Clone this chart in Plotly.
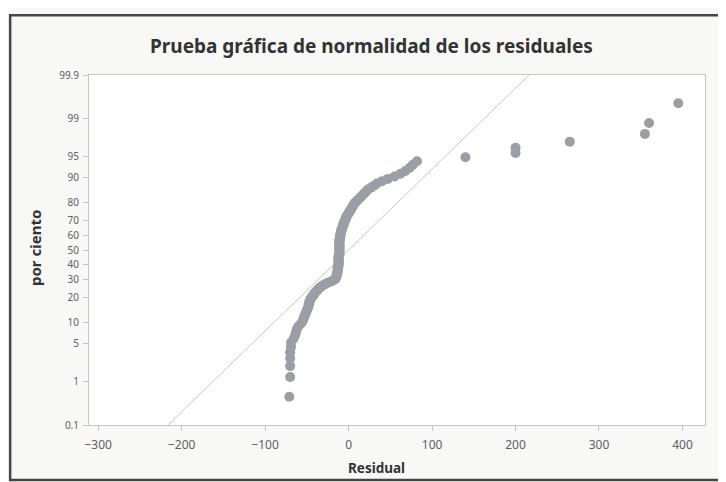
import plotly.graph_objects as go
from statistics import NormalDist

# ---- data ----
residuals = [
    -71, -70, -70, -70, -70, -69, -69, -66, -64, -63,
    -62, -60, -57, -55, -54, -53, -52, -51, -50, -49,
    -48, -48, -47, -47, -46, -45, -44, -42, -41, -40,
    -38, -37, -35, -33, -31, -28, -25, -21, -18, -16,
    -15, -15, -14, -14, -14, -13, -13, -13, -13, -13,
    -12, -12, -12, -12, -12, -12, -12, -12, -12, -12,
    -11, -11, -11, -11, -11, -11, -11, -11, -11, -11,
    -11, -11, -11, -11, -11, -10, -10, -10, -10, -10,
    -9, -9, -9, -8, -8, -7, -7, -6, -6, -5,
    -5, -4, -3, -3, -2, -1, 0, 1, 2, 3,
    4, 5, 6, 7, 9, 11, 13, 15, 17, 19,
    21, 23, 27, 31, 34, 40, 47, 55, 62, 68,
    73, 77, 82, 140, 200, 200, 265, 355, 360, 395,
]
fit_mean = 0.0
fit_sd = 70.0
pct_ticks = [0.1, 1, 5, 10, 20, 30, 40, 50, 60, 70, 80, 90, 95, 99, 99.9]
pct_labels = ["0.1", "1", "5", "10", "20", "30", "40", "50", "60", "70", "80", "90", "95", "99", "99.9"]
x_ticks = [-300, -200, -100, 0, 100, 200, 300, 400]
title_text = "Prueba gráfica de normalidad de los residuales"
x_title = "Residual"
y_title = "por ciento"

nd = NormalDist()
n = len(residuals)
xs = sorted(residuals)
# plotting positions (normal scores) for the probability axis
zs = [nd.inv_cdf((i + 1 - 0.375) / (n + 0.25)) for i in range(n)]
pct_vals = [100 * (i + 1 - 0.375) / (n + 0.25) for i in range(n)]

z_lo = nd.inv_cdf(0.001)
z_hi = nd.inv_cdf(0.999)

fig = go.Figure()
fig.add_trace(go.Scatter(
    x=[fit_mean + fit_sd * z_lo, fit_mean + fit_sd * z_hi],
    y=[z_lo, z_hi], mode="lines",
    line=dict(color="rgb(198,198,212)", width=1),
    hoverinfo="skip", showlegend=False))
fig.add_trace(go.Scatter(
    x=xs, y=zs, mode="markers", customdata=pct_vals,
    marker=dict(size=10, color="rgb(156,158,166)", line=dict(width=0)),
    hovertemplate="%{x}, %{customdata:.1f}%<extra></extra>",
    showlegend=False))

axis_col = "#c4c4c4"
fig.update_layout(
    width=726, height=482,
    margin=dict(l=81, r=29, t=67, b=65),
    paper_bgcolor="#f8f8f7", plot_bgcolor="white",
    xaxis=dict(range=[-311, 427], tickvals=x_ticks, showgrid=False, zeroline=False,
               showline=True, linecolor=axis_col, mirror=True,
               ticks="outside", ticklen=5, tickcolor=axis_col, ticklabelstandoff=4,
               tickfont=dict(family="Noto Sans", size=12, color="#606060")),
    yaxis=dict(range=[z_lo, z_hi], tickvals=[nd.inv_cdf(p / 100) for p in pct_ticks],
               ticktext=pct_labels, showgrid=False, zeroline=False,
               showline=True, linecolor=axis_col, mirror=True,
               ticks="outside", ticklen=5, tickcolor=axis_col, ticklabelstandoff=2,
               tickfont=dict(family="Noto Sans", size=10, color="#606060")),
    annotations=[
        dict(text="<b>" + title_text + "</b>", xref="paper", yref="paper",
             x=0.4594, y=1.0829, xanchor="center", yanchor="middle", showarrow=False,
             font=dict(family="Noto Sans", size=19, color="#333333")),
        dict(text="<b>" + x_title + "</b>", xref="paper", yref="paper",
             x=0.4675, y=-0.1229, xanchor="center", yanchor="middle", showarrow=False,
             font=dict(family="Noto Sans", size=13.5, color="#333333")),
        dict(text="<b>" + y_title + "</b>", xref="paper", yref="paper",
             x=-0.0877, y=0.5057, xanchor="center", yanchor="middle", showarrow=False,
             textangle=-90, font=dict(family="Noto Sans", size=15, color="#333333")),
    ],
    shapes=[dict(type="rect", xref="paper", yref="paper",
                 x0=-0.128, x1=1.2, y0=-0.157, y1=1.171,
                 line=dict(color="#454545", width=2.5), layer="below")],
)

fig.write_html("out.html")
